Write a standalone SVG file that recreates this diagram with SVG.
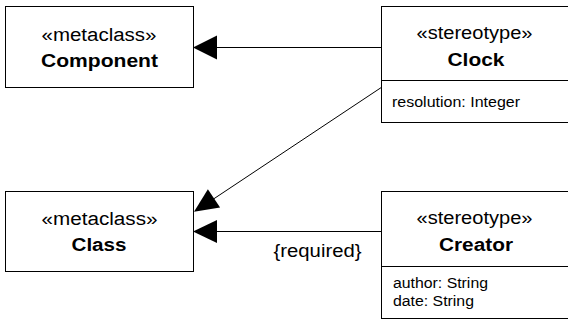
<svg xmlns="http://www.w3.org/2000/svg" width="568" height="321" viewBox="0 0 568 321">
<style>
.box{fill:#fff;stroke:#000;stroke-width:1}
.t{font-family:"Liberation Sans",Arial,sans-serif;font-size:18px;fill:#000;text-anchor:middle}
.b{font-weight:bold}
.a{font-family:"Liberation Sans",Arial,sans-serif;font-size:14px;fill:#000}
.ln{stroke:#000;stroke-width:1;fill:none}
.ah{fill:#000;stroke:none}
</style>
<rect width="568" height="321" fill="#fff"/>
<g id="connectors">
<line class="ln" x1="382" y1="47.5" x2="215" y2="47.5"/>
<polygon class="ah" points="193,47.5 217,35.5 217,59.5"/>
<line class="ln" x1="382" y1="231.5" x2="215" y2="231.5"/>
<polygon class="ah" points="193,231.5 217,220 217,243"/>
<line class="ln" x1="382" y1="87" x2="212" y2="200"/>
<polygon class="ah" points="194,211.7 207.9,189.2 220.1,207.6"/>
<text class="t" x="317.5" y="257" textLength="88" lengthAdjust="spacingAndGlyphs">{required}</text>
</g>
<g id="component">
<rect class="box" x="5.5" y="6.5" width="188" height="81"/>
<text class="t" x="99" y="41" textLength="115" lengthAdjust="spacingAndGlyphs">«metaclass»</text>
<text class="t b" x="99.5" y="67" textLength="117" lengthAdjust="spacingAndGlyphs">Component</text>
</g>
<g id="class">
<rect class="box" x="5.5" y="191.5" width="188" height="80"/>
<text class="t" x="99.5" y="225" textLength="116" lengthAdjust="spacingAndGlyphs">«metaclass»</text>
<text class="t b" x="99" y="251" textLength="55" lengthAdjust="spacingAndGlyphs">Class</text>
</g>
<g id="clock">
<rect class="box" x="381.5" y="6.5" width="190" height="116"/>
<line class="ln" x1="381.5" y1="80.5" x2="568" y2="80.5"/>
<text class="t" x="474.5" y="39" textLength="116" lengthAdjust="spacingAndGlyphs">«stereotype»</text>
<text class="t b" x="476" y="66" textLength="57" lengthAdjust="spacingAndGlyphs">Clock</text>
<text class="a" x="392" y="107" textLength="128" lengthAdjust="spacingAndGlyphs">resolution: Integer</text>
</g>
<g id="creator">
<rect class="box" x="381.5" y="191.5" width="190" height="127"/>
<line class="ln" x1="381.5" y1="266.5" x2="568" y2="266.5"/>
<text class="t" x="474.5" y="224" textLength="116" lengthAdjust="spacingAndGlyphs">«stereotype»</text>
<text class="t b" x="476" y="251" textLength="74" lengthAdjust="spacingAndGlyphs">Creator</text>
<text class="a" x="393" y="288" textLength="95" lengthAdjust="spacingAndGlyphs">author: String</text>
<text class="a" x="393" y="306" textLength="81" lengthAdjust="spacingAndGlyphs">date: String</text>
</g>
</svg>
